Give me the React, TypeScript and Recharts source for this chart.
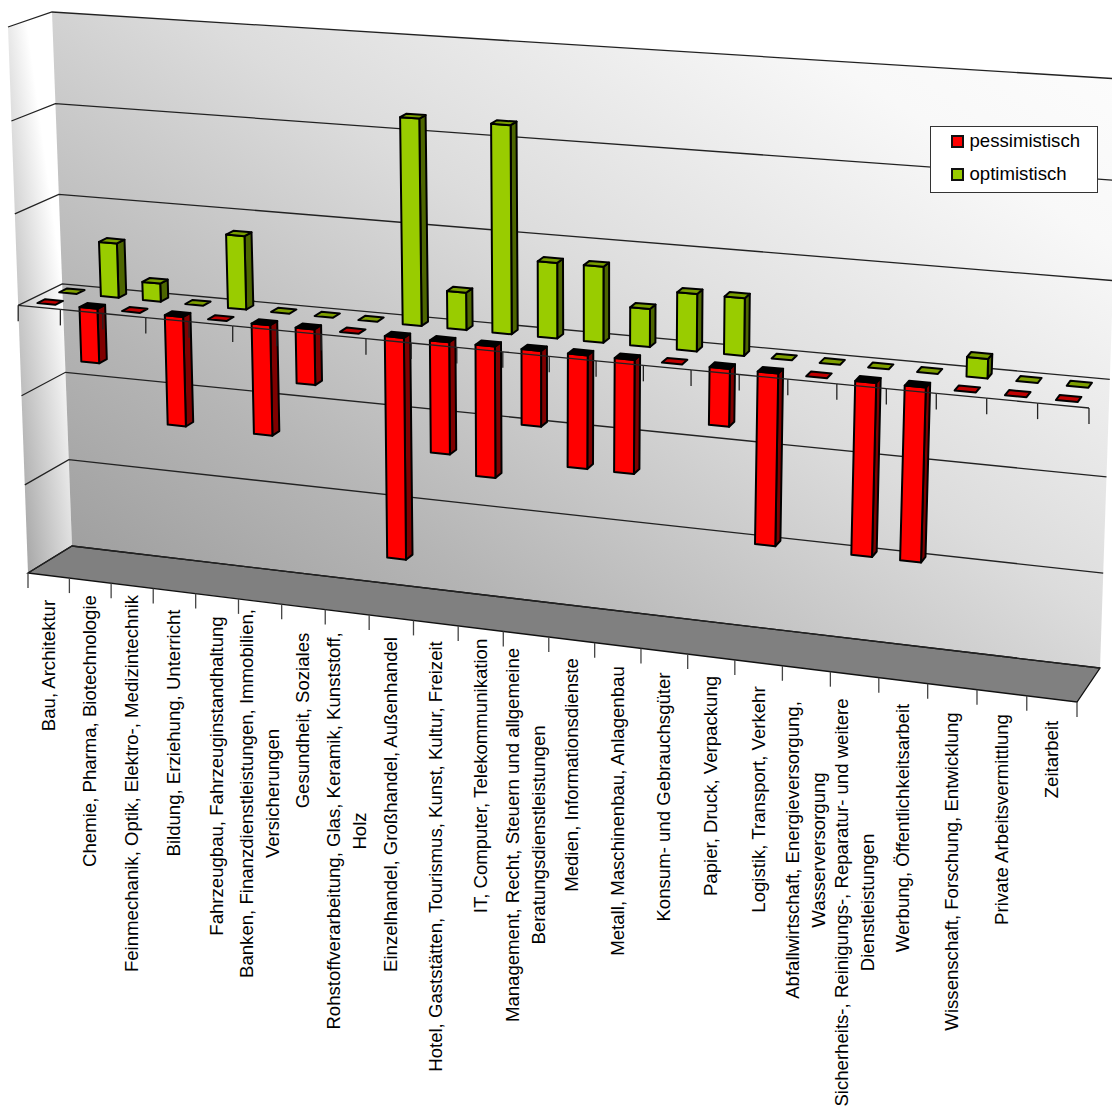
import React from 'react';
import { Bar, ComposedChart, Legend, ReferenceArea, XAxis, YAxis } from 'recharts';

const CHART_W = 1112;
const CHART_H = 1109;
const BAR_SIZE = 20.5;

// Category labels, one entry per rendered line
const CATEGORIES: string[][] = [
  ['Bau, Architektur'],
  ['Chemie, Pharma, Biotechnologie'],
  ['Feinmechanik, Optik, Elektro-, Medizintechnik'],
  ['Bildung, Erziehung, Unterricht'],
  ['Fahrzeugbau, Fahrzeuginstandhaltung'],
  ['Banken, Finanzdienstleistungen, Immobilien,', 'Versicherungen'],
  ['Gesundheit, Soziales'],
  ['Rohstoffverarbeitung, Glas, Keramik, Kunststoff,', 'Holz'],
  ['Einzelhandel, Großhandel, Außenhandel'],
  ['Hotel, Gaststätten, Tourismus, Kunst, Kultur, Freizeit'],
  ['IT, Computer, Telekommunikation'],
  ['Management, Recht, Steuern und allgemeine', 'Beratungsdienstleistungen'],
  ['Medien, Informationsdienste'],
  ['Metall, Maschinenbau, Anlagenbau'],
  ['Konsum- und Gebrauchsgüter'],
  ['Papier, Druck, Verpackung'],
  ['Logistik, Transport, Verkehr'],
  ['Abfallwirtschaft, Energieversorgung,', 'Wasserversorgung'],
  ['Sicherheits-, Reinigungs-, Reparatur- und weitere', 'Dienstleistungen'],
  ['Werbung, Öffentlichkeitsarbeit'],
  ['Wissenschaft, Forschung, Entwicklung'],
  ['Private Arbeitsvermittlung'],
  ['Zeitarbeit'],
];

const PESSIMISTISCH = [0, -6, 0, -12, 0, -12, -6, 0, -24, -12, -14, -8, -12, -12, 0, -6, -18, 0, -18, -18, 0, 0, 0];
const OPTIMISTISCH = [0, 6, 2, 0, 8, 0, 0, 0, 22, 4, 22, 8, 8, 4, 6, 6, 0, 0, 0, 0, 2, 0, 0];

const GRID_VALUES = [-30, -20, -10, 0, 10, 20, 30];
const Y_MIN = -30;
const Y_MAX = 30;

const SERIES_NAMES = ['pessimistisch', 'optimistisch'];

// Vertical centre of each rotated label block
const LABEL_CENTER_Y = [
  665.5, 731, 783.5, 733, 776, 793.5, 720.5, 831, 804.5, 856.5, 776, 835, 775, 811, 797, 786, 799.5, 850, 902.5, 828,
  871.5, 819.5, 759.5,
];

const rows = CATEGORIES.map((lines, i) => ({
  category: lines.join(' '),
  pessimistisch: PESSIMISTISCH[i],
  optimistisch: OPTIMISTISCH[i],
}));

type Pt = [number, number];

// Unit square to quad homography, corners ordered (0,0) (1,0) (1,1) (0,1)
function makeHomography(p0: Pt, p1: Pt, p2: Pt, p3: Pt) {
  const dx1 = p1[0] - p2[0];
  const dx2 = p3[0] - p2[0];
  const sx = p0[0] - p1[0] + p2[0] - p3[0];
  const dy1 = p1[1] - p2[1];
  const dy2 = p3[1] - p2[1];
  const sy = p0[1] - p1[1] + p2[1] - p3[1];
  const det = dx1 * dy2 - dx2 * dy1;
  const g = (sx * dy2 - dx2 * sy) / det;
  const h = (dx1 * sy - sx * dy1) / det;
  const a = p1[0] - p0[0] + g * p1[0];
  const b = p3[0] - p0[0] + h * p3[0];
  const d = p1[1] - p0[1] + g * p1[1];
  const e = p3[1] - p0[1] + h * p3[1];
  return (u: number, v: number): Pt => {
    const q = g * u + h * v + 1;
    return [(a * u + b * v + p0[0]) / q, (d * u + e * v + p0[1]) / q];
  };
}

// Front and back planes of the 3D box
const frontPlane = makeHomography([8, 27], [1101.5, 101], [1077, 702], [28, 573]);
const backPlane = makeHomography([52, 12], [1120, 79], [1100, 668], [72, 546]);

// Chart pixel (x, y) at depth w (0 = front, 1 = back) to the screen
function project(x: number, y: number, w: number): Pt {
  const f = frontPlane(x / CHART_W, y / CHART_H);
  const b = backPlane(x / CHART_W, y / CHART_H);
  return [f[0] + (b[0] - f[0]) * w, f[1] + (b[1] - f[1]) * w];
}

const toPoints = (pts: Pt[]) => pts.map((p) => `${p[0].toFixed(1)},${p[1].toFixed(1)}`).join(' ');

const LINE_COLOR = '#222';

// Walls and floor of the box
function renderWalls(props: any) {
  const { x, y, width, height } = props;
  const left = x;
  const right = x + width;
  const top = y;
  const bottom = y + height;
  return (
    <g>
      <defs>
        <linearGradient id="backWall" gradientUnits="userSpaceOnUse" x1={72} y1={546} x2={673} y2={-358}>
          <stop offset="0" stopColor="#a0a0a0" />
          <stop offset="0.18" stopColor="#b5b5b5" />
          <stop offset="0.47" stopColor="#dcdcdc" />
          <stop offset="0.53" stopColor="#e2e2e2" />
          <stop offset="0.76" stopColor="#f8f8f8" />
          <stop offset="1" stopColor="#ffffff" />
        </linearGradient>
        <linearGradient id="sideWall" gradientUnits="userSpaceOnUse" x1={28} y1={573} x2={101} y2={563}>
          <stop offset="0" stopColor="#a8a8a8" />
          <stop offset="1" stopColor="#ffffff" />
        </linearGradient>
      </defs>
      <polygon
        points={toPoints([project(left, top, 0), project(left, top, 1), project(left, bottom, 1), project(left, bottom, 0)])}
        fill="url(#sideWall)"
      />
      <polygon
        points={toPoints([project(left, top, 1), project(right, top, 1), project(right, bottom, 1), project(left, bottom, 1)])}
        fill="url(#backWall)"
      />
      <polygon
        points={toPoints([project(left, bottom, 0), project(left, bottom, 1), project(right, bottom, 1), project(right, bottom, 0)])}
        fill="#808080"
        stroke="#111"
        strokeWidth={1.3}
      />
    </g>
  );
}

// Value line running along the side wall and the back wall
function renderGridLine(props: any) {
  const { x, y, width } = props;
  return (
    <polyline
      points={toPoints([project(x, y, 0), project(x, y, 1), project(x + width, y, 1)])}
      fill="none"
      stroke={LINE_COLOR}
      strokeWidth={1.3}
    />
  );
}

const DEPTH_RED: Pt = [0.16, 0.34];
const DEPTH_GREEN: Pt = [0.66, 0.84];

function makeBoxShape(depth: Pt, front: string, side: string, top: string, flat: string) {
  return function BoxShape(props: any) {
    const { x, y, width, height } = props;
    const yTop = Math.min(y, y + height);
    const yBottom = Math.max(y, y + height);
    const isFlat = yBottom - yTop < 0.5;
    const x2 = x + width;
    const [w0, w1] = depth;
    const common = { stroke: '#000', strokeWidth: 2, strokeLinejoin: 'round' as const };
    const capColor = isFlat ? flat : top;
    return (
      <g>
        {!isFlat && (
          <polygon
            {...common}
            fill={side}
            points={toPoints([project(x2, yTop, w0), project(x2, yTop, w1), project(x2, yBottom, w1), project(x2, yBottom, w0)])}
          />
        )}
        {!isFlat && (
          <polygon
            {...common}
            fill={front}
            points={toPoints([project(x, yTop, w0), project(x2, yTop, w0), project(x2, yBottom, w0), project(x, yBottom, w0)])}
          />
        )}
        <polygon
          {...common}
          fill={capColor}
          points={toPoints([project(x, yTop, w0), project(x2, yTop, w0), project(x2, yTop, w1), project(x, yTop, w1)])}
        />
      </g>
    );
  };
}

const RedBox = makeBoxShape(DEPTH_RED, '#ff0000', '#800000', '#000000', '#c00000');
const GreenBox = makeBoxShape(DEPTH_GREEN, '#99cc00', '#4d6600', '#7a9f00', '#7f9f00');

// Floor tick, label and the front edge of the zero plane for one category
function CategoryTick(props: any) {
  const { x, index } = props;
  const step = CHART_W / CATEGORIES.length;
  const xLeft = x - step / 2;
  const xRight = x + step / 2;
  const zeroY = CHART_H / 2;
  const lines = CATEGORIES[index] ?? [];
  const floorMid = project(x, CHART_H, 0);
  const marks = index === CATEGORIES.length - 1 ? [xLeft, xRight] : [xLeft];
  const lineGap = 26;
  return (
    <g>
      <polyline
        points={toPoints([project(xLeft, zeroY, 0), project(xRight, zeroY, 0)])}
        fill="none"
        stroke={LINE_COLOR}
        strokeWidth={1.3}
      />
      {marks.map((mx) => {
        const z = project(mx, zeroY, 0);
        const f = project(mx, CHART_H, 0);
        return (
          <g key={mx}>
            <line x1={z[0]} y1={z[1]} x2={z[0]} y2={z[1] + 16} stroke={LINE_COLOR} strokeWidth={1.3} />
            <line x1={f[0]} y1={f[1]} x2={f[0]} y2={f[1] + 15} stroke="#444" strokeWidth={1.3} />
          </g>
        );
      })}
      {lines.map((line, i) => {
        const bx = floorMid[0] + 6 + (i - (lines.length - 1) / 2) * lineGap;
        const cy = LABEL_CENTER_Y[index];
        return (
          <text
            key={line}
            transform={`translate(${bx.toFixed(1)},${cy}) rotate(-90)`}
            textAnchor="middle"
            fontSize={18.6}
            fill="#000"
          >
            {line}
          </text>
        );
      })}
    </g>
  );
}

function LegendBox({ payload }: any) {
  const items = SERIES_NAMES.map((name) => (payload ?? []).find((p: any) => p.value === name)).filter(Boolean);
  return (
    <div
      style={{
        position: 'relative',
        width: 168,
        height: 67,
        boxSizing: 'border-box',
        background: '#fff',
        border: '1.5px solid #333',
      }}
    >
      {items.map((item: any, i: number) => (
        <div key={item.value}>
          <div
            style={{
              position: 'absolute',
              left: 20,
              top: 8 + i * 33,
              width: 13,
              height: 13,
              boxSizing: 'border-box',
              background: item.color,
              border: '2px solid #111',
            }}
          />
          <div
            style={{
              position: 'absolute',
              left: 38.5,
              top: 3 + i * 33,
              fontSize: 18.6,
              lineHeight: '22px',
              color: '#000',
            }}
          >
            {item.value}
          </div>
        </div>
      ))}
    </div>
  );
}

export default function App() {
  return (
    <div
      style={{
        position: 'absolute',
        left: 0,
        top: 0,
        width: CHART_W,
        height: CHART_H,
        overflow: 'hidden',
        background: '#fff',
        fontFamily: '"Liberation Sans", Arial, sans-serif',
      }}
    >
      {/* one extra pixel leaves the full plot height once the axis takes its height */}
      <ComposedChart
        width={CHART_W}
        height={CHART_H + 1}
        data={rows}
        barSize={BAR_SIZE}
        barGap={-BAR_SIZE}
        margin={{ top: 0, right: 0, bottom: 0, left: 0 }}
      >
        <YAxis hide width={0} type="number" domain={[Y_MIN, Y_MAX]} ticks={GRID_VALUES} />
        <ReferenceArea y1={Y_MIN} y2={Y_MAX} shape={renderWalls} ifOverflow="visible" />
        {GRID_VALUES.map((v) => (
          <ReferenceArea key={v} y1={v} y2={v} shape={renderGridLine} ifOverflow="visible" />
        ))}
        <Bar dataKey="optimistisch" name="optimistisch" fill="#99cc00" shape={GreenBox} isAnimationActive={false} />
        <Bar dataKey="pessimistisch" name="pessimistisch" fill="#ff0000" shape={RedBox} isAnimationActive={false} />
        <XAxis dataKey="category" height={1} interval={0} axisLine={false} tickLine={false} tick={CategoryTick} />
        <Legend
          layout="vertical"
          align="center"
          verticalAlign="middle"
          content={LegendBox}
          wrapperStyle={{ left: 930, top: 126, width: 168, height: 67 }}
        />
      </ComposedChart>
    </div>
  );
}
